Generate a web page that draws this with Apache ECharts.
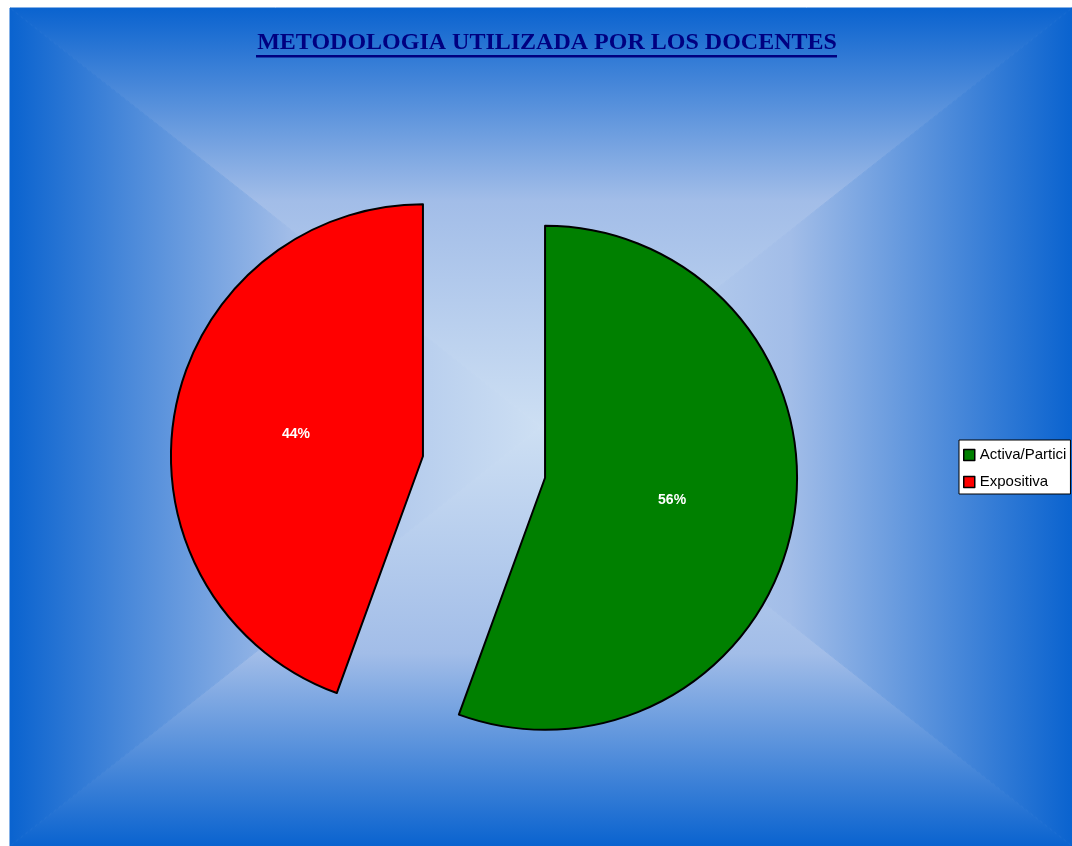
<!DOCTYPE html>
<html>
<head>
<meta charset="utf-8">
<script src="https://cdn.jsdelivr.net/npm/echarts@6/dist/echarts.min.js"></script>
<style>
  html, body { margin: 0; padding: 0; background: #fff; }
  #chart { width: 1072px; height: 846px; }
</style>
</head>
<body>
<div id="chart"></div>
<script>
const categories = ['Activa/Partici', 'Expositiva']
const values = [5, 4]
const sliceColors = ['#008000', '#ff0000']
const titleText = 'METODOLOGIA UTILIZADA POR LOS DOCENTES'

const chart = echarts.init(document.getElementById('chart'))

// rectangular "from center" background: four triangles meeting in the middle
const L = 10, T = 8, R = 1072, B = 846
const cx = (L + R) / 2, cy = (T + B) / 2
const dark = '#0a63cf', mid = '#a2bde8', light = '#cddff3'
function tri(points, x, y, x2, y2, midAt) {
  const g = () => new echarts.graphic.LinearGradient(x, y, x2, y2, [
    { offset: 0, color: dark },
    { offset: midAt, color: mid },
    { offset: 1, color: light }
  ], true)
  return {
    type: 'polygon',
    silent: true,
    z: -10,
    shape: { points },
    style: { fill: g(), stroke: g(), lineWidth: 1 }
  }
}

chart.setOption({
  backgroundColor: '#ffffff',
  graphic: [
    tri([[L, T], [R, T], [cx, cy]], 0, T, 0, cy, 0.46),
    tri([[L, B], [R, B], [cx, cy]], 0, B, 0, cy, 0.46),
    tri([[L, T], [L, B], [cx, cy]], L, 0, cx, 0, 0.53),
    tri([[R, T], [R, B], [cx, cy]], R, 0, cx, 0, 0.53),
    {
      type: 'text',
      x: 547,
      y: 43,
      style: {
        text: titleText,
        fill: '#000080',
        align: 'center',
        verticalAlign: 'middle',
        font: 'bold 24px "Liberation Serif", "Times New Roman", serif'
      }
    },
    {
      type: 'rect',
      shape: { x: 256, y: 55, width: 581, height: 2.5 },
      style: { fill: '#000080' }
    }
  ],
  legend: {
    orient: 'vertical',
    left: 959,
    top: 440,
    data: categories,
    backgroundColor: '#ffffff',
    borderColor: '#000000',
    borderWidth: 1,
    borderRadius: 0,
    padding: [7, 4, 4, 4],
    itemWidth: 11,
    itemHeight: 11,
    itemGap: 11,
    icon: 'rect',
    itemStyle: { borderColor: '#000', borderWidth: 1.5 },
    textStyle: { color: '#000', fontSize: 15, lineHeight: 16, fontFamily: '"Liberation Sans", Arial, sans-serif' },
    selectedMode: false
  },
  series: [{
    type: 'pie',
    center: [484, 467],
    radius: 252,
    startAngle: 90,
    clockwise: true,
    percentPrecision: 0,
    selectedMode: 'multiple',
    selectedOffset: 62,
    animation: false,
    data: categories.map((name, i) => ({
      name,
      value: values[i],
      selected: true,
      itemStyle: { color: sliceColors[i] }
    })),
    itemStyle: { borderColor: '#000', borderWidth: 2 },
    label: {
      position: 'inner',
      formatter: '{d}%',
      color: '#fff',
      fontWeight: 'bold',
      fontSize: 14,
      fontFamily: '"Liberation Sans", Arial, sans-serif'
    },
    emphasis: { disabled: true }
  }]
})
</script>
</body>
</html>
